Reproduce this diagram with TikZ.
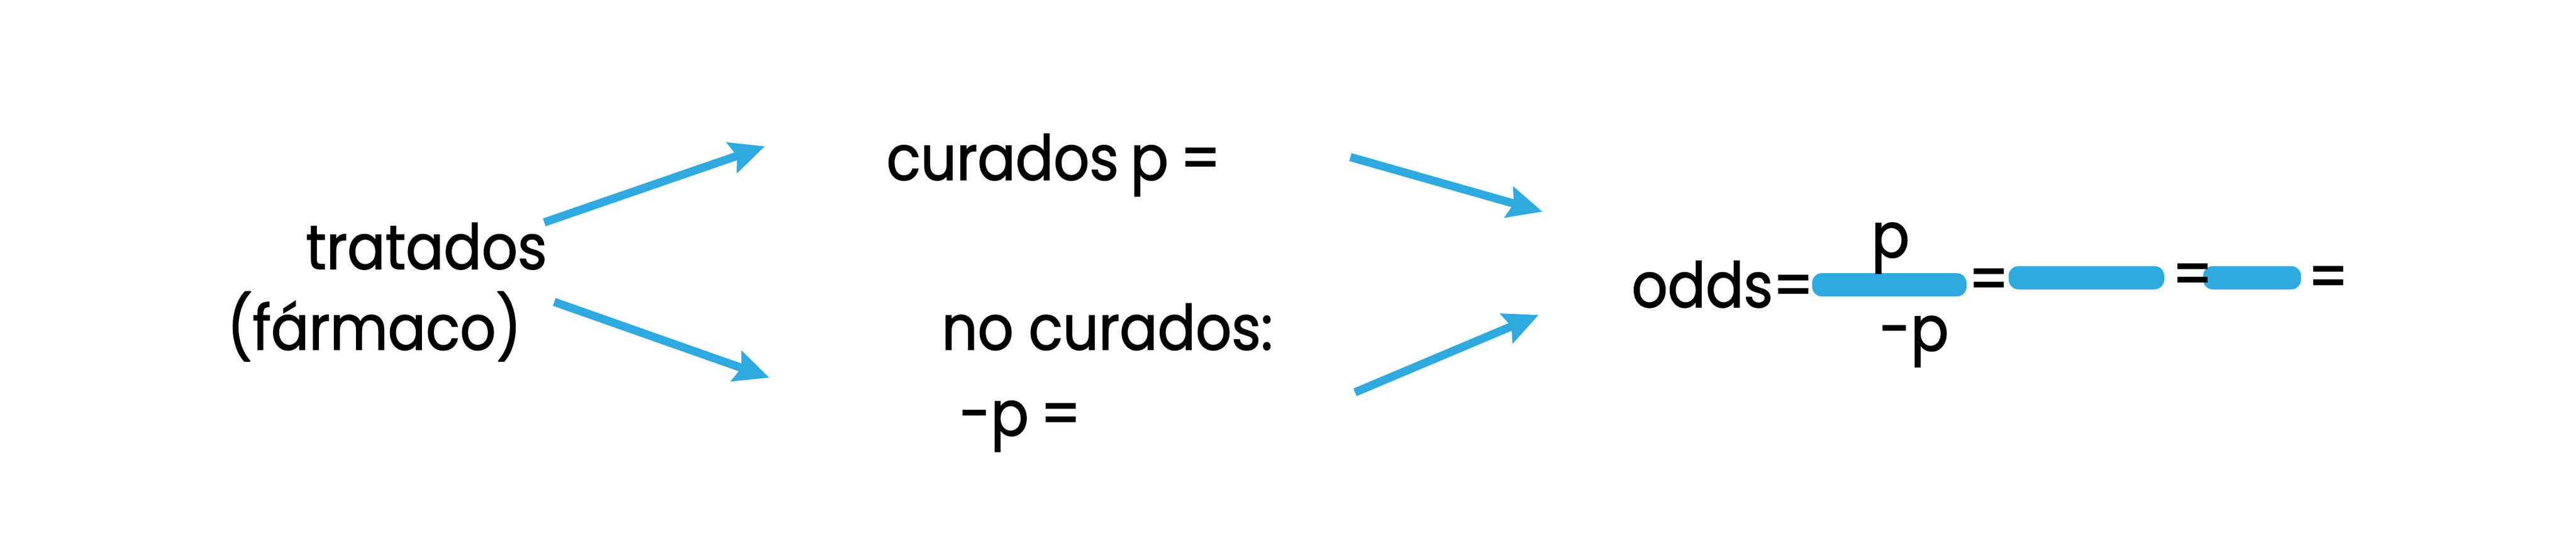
\documentclass[tikz,border=0pt]{standalone}
\usepackage{fontspec}
\setmainfont{Poppins}[FakeStretch=0.9,FakeBold=1.4]
\usetikzlibrary{arrows.meta}
\definecolor{skyb}{RGB}{46,170,225}
\begin{document}
\begin{tikzpicture}[x=1pt,y=-1pt,
  lbl/.style={anchor=base west,inner sep=0pt,font=\fontsize{38}{46}\selectfont},
  arr/.style={draw=skyb,line width=5pt,-{Stealth[length=21pt,width=19pt,inset=3pt]}},
  bar/.style={fill=skyb,rounded corners=6pt,inner sep=0pt,minimum height=14.2pt}]
\useasboundingbox[fill=white] (0,0) rectangle (1568,325.25);
% bars
\node[bar,minimum width=94pt] (bar1) at (1150,173.3) {};
\node[bar,minimum width=94.7pt] (bar2) at (1270,169) {};
\node[bar,minimum width=59.6pt] (bar3) at (1370.8,169) {};
% texts
\node[lbl] (trat) at (186,163.7) {tratados};
\node[lbl] (farm) at (138,212.8) {(fármaco)};
\node[lbl] (cur) at (539.4,109.5) {curados\hspace{-2pt} p\hspace{-2pt} =};
\node[lbl] (nocur) at (573,212.8) {no curados:};
\node[lbl] (nocp) at (584,265) {-p\hspace{-2pt} =};
\node[lbl] (odds) at (993,186.9) {odds=};
\node[lbl] (num) at (1139,156.6) {p};
\node[lbl] (den) at (1144,213.4) {-p};
\node[lbl] (eq1) at (1198,183) {=};
\node[lbl] (eq2) at (1322,180) {=};
\node[lbl] (eq3) at (1404.6,181.6) {=};
% arrow end points
\coordinate (a1s) at (331.3,135.3);
\coordinate (a1e) at (465.6,89);
\coordinate (a2s) at (337.4,183.7);
\coordinate (a2e) at (468.3,229.8);
\coordinate (a3s) at (822,95.6);
\coordinate (a3e) at (938.9,128.8);
\coordinate (a4s) at (824.8,238.7);
\coordinate (a4e) at (936.6,191.6);
\draw[arr] (a1s) -- (a1e);
\draw[arr] (a2s) -- (a2e);
\draw[arr] (a3s) -- (a3e);
\draw[arr] (a4s) -- (a4e);
\end{tikzpicture}
\end{document}
